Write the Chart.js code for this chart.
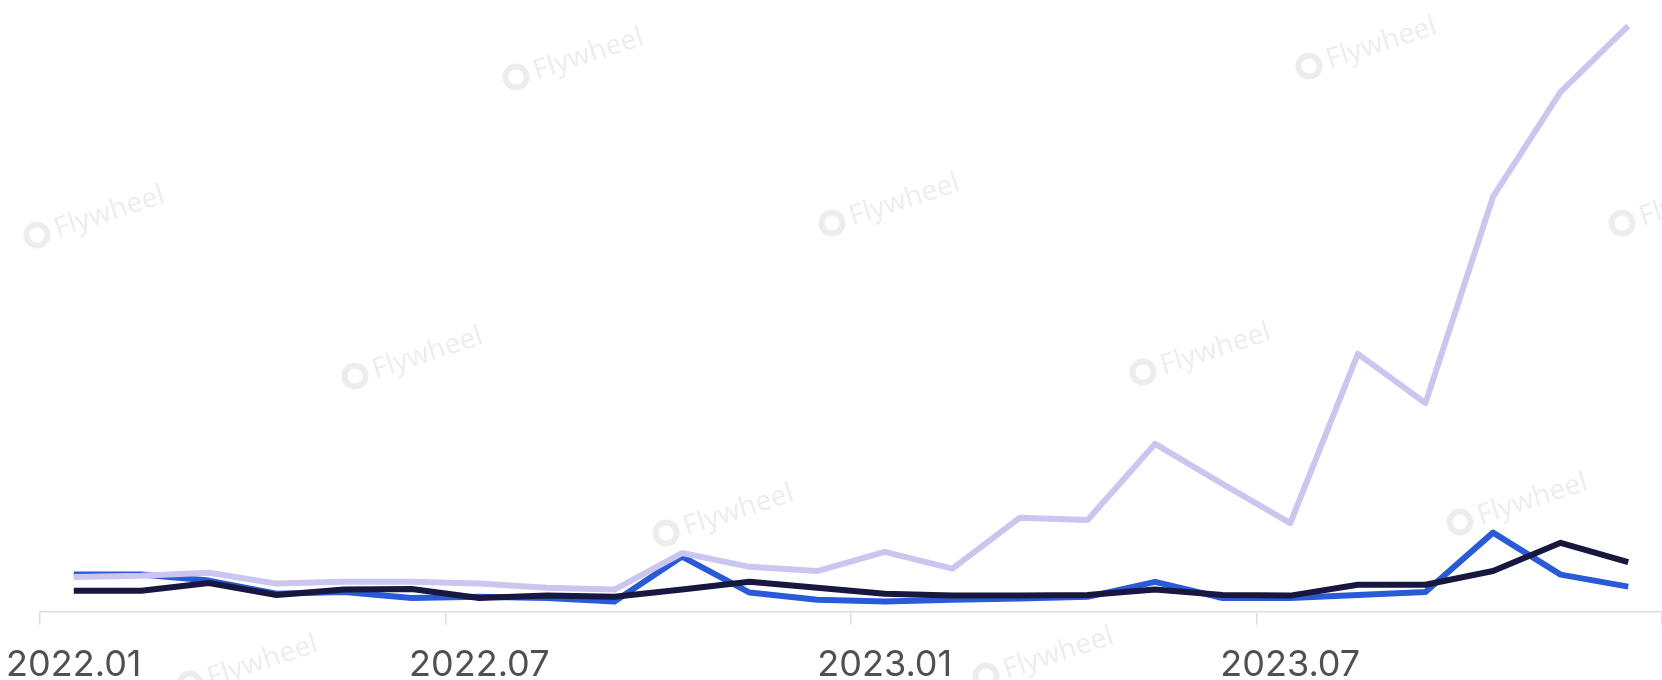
<!DOCTYPE html>
<html>
<head>
<meta charset="utf-8">
<script src="https://cdn.jsdelivr.net/npm/chart.js@4.4.1/dist/chart.umd.min.js"></script>
<style>
  html, body { margin: 0; padding: 0; background: #ffffff; }
  #wrap { width: 1662px; height: 680px; position: relative; }
</style>
</head>
<body>
<div id="wrap"><canvas id="chart"></canvas></div>
<script>
// Monthly categories, 2022.01 – 2023.12
const months = [
  '2022.01','2022.02','2022.03','2022.04','2022.05','2022.06',
  '2022.07','2022.08','2022.09','2022.10','2022.11','2022.12',
  '2023.01','2023.02','2023.03','2023.04','2023.05','2023.06',
  '2023.07','2023.08','2023.09','2023.10','2023.11','2023.12'
];

// Series values (relative index)
const seriesLavender = [5.8, 6.0, 6.5, 4.7, 5.0, 5.0, 4.7, 4.0, 3.7, 9.8, 7.5, 6.8,
                        10.0, 7.2, 15.7, 15.3, 28.0, 21.3, 14.8, 43.0, 34.8, 69.2, 86.7, 97.7];
const seriesBlue     = [6.2, 6.2, 5.2, 3.0, 3.3, 2.3, 2.5, 2.3, 1.7, 9.2, 3.2, 2.0,
                        1.7, 2.0, 2.2, 2.5, 5.0, 2.3, 2.3, 2.8, 3.3, 13.2, 6.2, 4.2];
const seriesNavy     = [3.5, 3.5, 4.8, 2.8, 3.7, 3.8, 2.3, 2.7, 2.5, 3.7, 5.0, 4.0,
                        3.0, 2.7, 2.7, 2.8, 3.7, 2.8, 2.7, 4.5, 4.5, 6.8, 11.5, 8.3];

// Only every sixth month carries a label
const labelStep = 6;

// Faint "Flywheel" marks laid across the canvas
const watermarkSpots = [
  [516, 77], [1309, 66],
  [37, 235], [832, 223], [1622, 223],
  [355, 376], [1143, 372],
  [-128, 533], [666, 533], [1460, 522],
  [190, 684], [986, 676]
];

const watermarkPlugin = {
  id: 'watermark',
  beforeDatasetsDraw(chart) {
    const ctx = chart.ctx;
    ctx.save();
    for (const [x, y] of watermarkSpots) {
      ctx.save();
      ctx.translate(x, y);
      ctx.rotate(-18 * Math.PI / 180);
      ctx.strokeStyle = 'rgba(0,0,0,0.07)';
      ctx.lineWidth = 6;
      ctx.beginPath();
      ctx.arc(0, 0, 10.5, 0, Math.PI * 2);
      ctx.stroke();
      ctx.fillStyle = 'rgba(0,0,0,0.07)';
      ctx.font = '28px "Noto Sans", sans-serif';
      ctx.textBaseline = 'middle';
      ctx.fillText('Flywheel', 19, 1);
      ctx.restore();
    }
    ctx.restore();
  }
};

const lineStyle = {
  borderWidth: 6,
  pointRadius: 0,
  pointHoverRadius: 0,
  tension: 0,
  borderJoinStyle: 'round',
  borderCapStyle: 'butt',
  fill: false
};

new Chart(document.getElementById('chart'), {
  type: 'line',
  data: {
    labels: months,
    datasets: [
      Object.assign({ label: 'Series B', data: seriesBlue, borderColor: '#2a5bd7', order: 3 }, lineStyle),
      Object.assign({ label: 'Series A', data: seriesLavender, borderColor: '#cbc6f0', order: 2 }, lineStyle),
      Object.assign({ label: 'Series C', data: seriesNavy, borderColor: '#17173f', order: 1 }, lineStyle)
    ]
  },
  options: {
    responsive: true,
    maintainAspectRatio: false,
    animation: false,
    events: [],
    layout: {
      autoPadding: false,
      padding: { left: 40, right: 0, top: 12, bottom: -26 }
    },
    plugins: {
      legend: { display: false },
      tooltip: { enabled: false }
    },
    scales: {
      x: {
        type: 'category',
        offset: true,
        // let the edge labels hang past the plot instead of squeezing it
        afterFit: (scale) => { scale.paddingLeft = 0; scale.paddingRight = 0; },
        border: { display: true, color: '#dedede', width: 1.5 },
        grid: {
          offset: true,
          drawOnChartArea: false,
          drawTicks: true,
          tickLength: 13,
          lineWidth: 1.5,
          color: (c) => (c.type !== 'tick' || c.index % labelStep === 0) ? '#dedede' : 'rgba(0,0,0,0)'
        },
        ticks: {
          autoSkip: false,
          maxRotation: 0,
          minRotation: 0,
          padding: 19,
          color: '#505050',
          font: { family: 'Inter, "Noto Sans", sans-serif', size: 36 },
          callback: (value, index) => index % labelStep === 0 ? months[index] : ''
        }
      },
      y: {
        display: false,
        min: 0,
        max: 100
      }
    }
  },
  plugins: [watermarkPlugin]
});
</script>
</body>
</html>
